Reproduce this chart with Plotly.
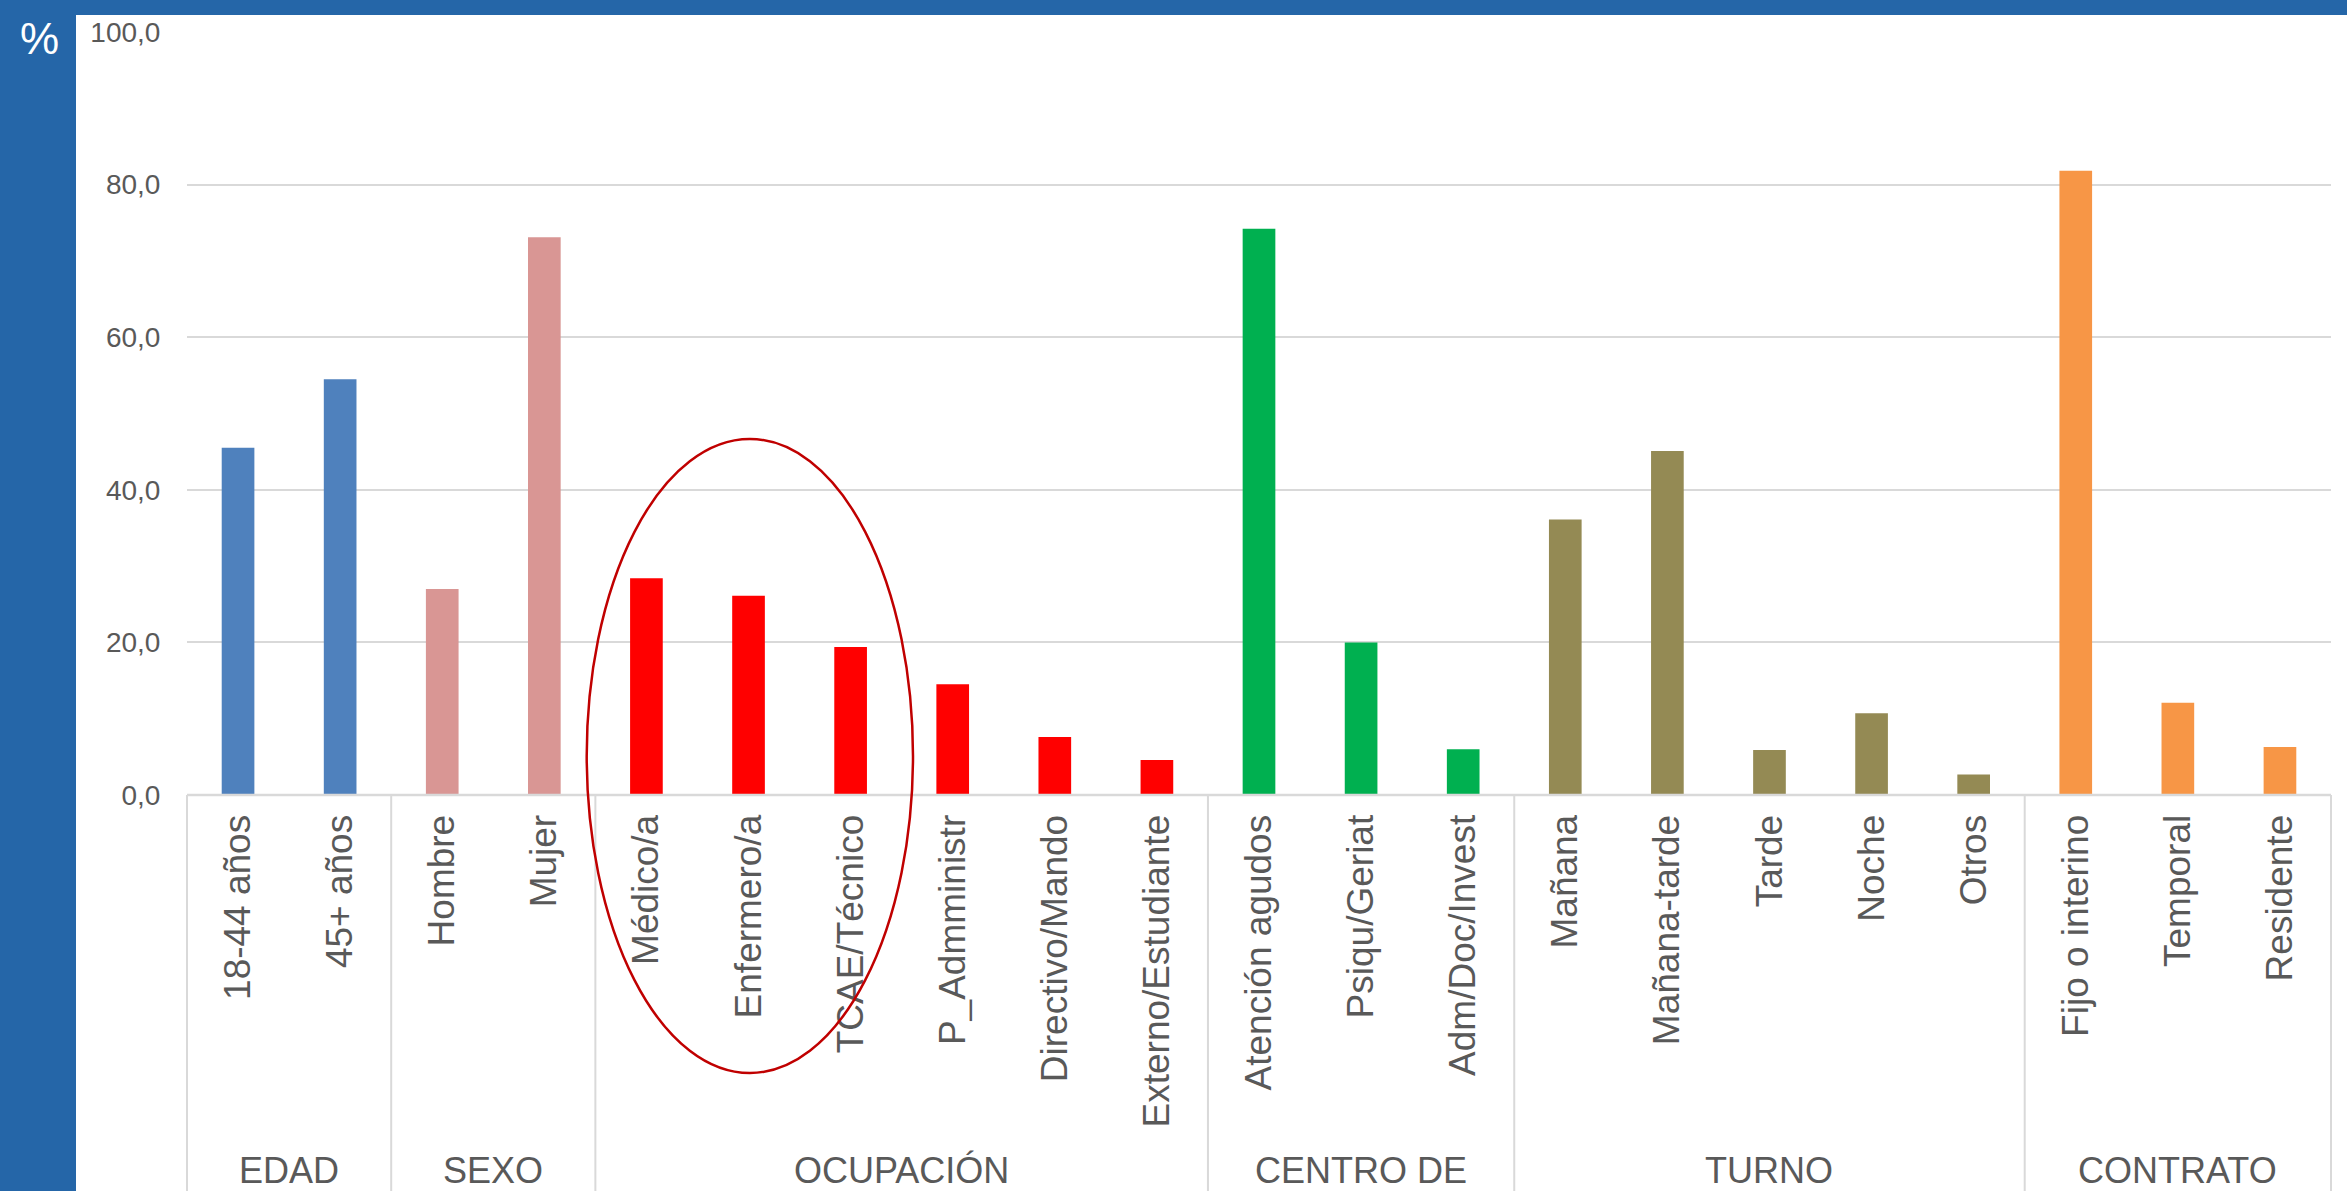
import plotly.graph_objects as go

# ---- data ----
group_names = ["EDAD", "SEXO", "OCUPACIÓN", "CENTRO DE", "TURNO", "CONTRATO"]
edad_cats = ["18-44 años", "45+ años"]
edad_vals = [45.5, 54.5]
sexo_cats = ["Hombre", "Mujer"]
sexo_vals = [27.0, 73.1]
ocup_cats = ["Médico/a", "Enfermero/a", "TCAE/Técnico", "P_Admministr", "Directivo/Mando", "Externo/Estudiante"]
ocup_vals = [28.4, 26.1, 19.4, 14.5, 7.6, 4.6]
centro_cats = ["Atención agudos", "Psiqu/Geriat", "Adm/Doc/Invest"]
centro_vals = [74.2, 20.0, 6.0]
turno_cats = ["Mañana", "Mañana-tarde", "Tarde", "Noche", "Otros"]
turno_vals = [36.1, 45.1, 5.9, 10.7, 2.7]
contrato_cats = ["Fijo o interino", "Temporal", "Residente"]
contrato_vals = [81.8, 12.1, 6.3]
y_ticks = [0, 20, 40, 60, 80, 100]

group_colors = ["#4F81BD", "#D99694", "#FF0000", "#00B050", "#948A54", "#F79646"]

groups_cats = [edad_cats, sexo_cats, ocup_cats, centro_cats, turno_cats, contrato_cats]
groups_vals = [edad_vals, sexo_vals, ocup_vals, centro_vals, turno_vals, contrato_vals]

cats, vals, cols = [], [], []
for gc, gv, col in zip(groups_cats, groups_vals, group_colors):
    cats += gc
    vals += gv
    cols += [col] * len(gc)

N = len(cats)
W, H = 2347, 1191
ml, mr, mt, mb = 187, 16, 32, 396
pw, ph = W - ml - mr, H - mt - mb

GRID = "#D9D9D9"
TXT = "#595959"
BAND = "#2566A8"

fig = go.Figure()
fig.add_trace(go.Bar(x=cats, y=vals, marker=dict(color=cols, line=dict(width=0)),
                     width=0.32, showlegend=False))

shapes = []
# group separators below the axis
bounds = [0]
for gc in groups_cats:
    bounds.append(bounds[-1] + len(gc))
for b in bounds:
    xp = b / N
    shapes.append(dict(type="line", xref="paper", yref="paper", x0=xp, x1=xp,
                       y0=0, y1=-(mb + 5) / ph, line=dict(color=GRID, width=2)))
# axis baseline
shapes.append(dict(type="line", xref="paper", yref="paper", x0=0, x1=1, y0=0, y1=0,
                   line=dict(color=GRID, width=2.5)))

# highlight ellipse around Médico/a, Enfermero/a, TCAE/Técnico
i_med = cats.index("Médico/a")
i_tca = cats.index("TCAE/Técnico")
ex0 = (i_med - 0.085) / N
ex1 = (i_tca + 1.111) / N
shapes.append(dict(type="circle", xref="paper", yref="paper",
                   x0=ex0, x1=ex1,
                   y0=-(1073 - (H - mb)) / ph, y1=((H - mb) - 439) / ph,
                   line=dict(color="#C00000", width=2.5), layer="above"))

# blue frame bands
shapes.append(dict(type="rect", xref="paper", yref="paper",
                   x0=-ml / pw - 0.01, x1=(76 - ml) / pw, y0=-mb / ph - 0.01, y1=1 + mt / ph + 0.01,
                   fillcolor=BAND, line=dict(width=0), layer="above"))
shapes.append(dict(type="rect", xref="paper", yref="paper",
                   x0=-ml / pw - 0.01, x1=1 + mr / pw + 0.01, y0=1 + (mt - 15) / ph, y1=1 + mt / ph + 0.01,
                   fillcolor=BAND, line=dict(width=0), layer="above"))

annotations = []
for k, name in enumerate(group_names):
    xc = (bounds[k] + bounds[k + 1]) / 2 / N
    annotations.append(dict(text=name, xref="paper", yref="paper", x=xc, y=-(1148 - (H - mb)) / ph,
                            xanchor="center", yanchor="top", showarrow=False,
                            font=dict(family="Liberation Sans, Arial", size=36, color=TXT)))
annotations.append(dict(text="%", xref="paper", yref="paper", x=(39 - ml) / pw, y=1 + (mt - 38) / ph,
                        xanchor="center", yanchor="middle", showarrow=False,
                        font=dict(family="Liberation Sans, Arial", size=44, color="white")))

fig.update_layout(
    width=W, height=H,
    margin=dict(l=ml, r=mr, t=mt, b=mb, pad=0),
    paper_bgcolor="white", plot_bgcolor="white",
    separators=",.",
    shapes=shapes, annotations=annotations,
    xaxis=dict(type="category", range=[-0.5, N - 0.5], tickangle=-90,
               tickfont=dict(family="Liberation Sans, Arial", size=37, color=TXT),
               ticks="outside", ticklen=4, tickcolor="rgba(0,0,0,0)",
               showgrid=False, showline=False, zeroline=False, fixedrange=True),
    yaxis=dict(range=[0, 100], tickvals=y_ticks, tickformat=".1f",
               tickfont=dict(family="Liberation Sans, Arial", size=28, color=TXT),
               ticks="outside", ticklen=20, tickcolor="rgba(0,0,0,0)",
               showgrid=True, gridcolor=GRID, gridwidth=2,
               showline=False, zeroline=False, fixedrange=True),
)

fig.write_html("out.html", config={"displayModeBar": False},
               post_script="document.body.style.margin='0px';document.body.style.overflow='hidden';")
